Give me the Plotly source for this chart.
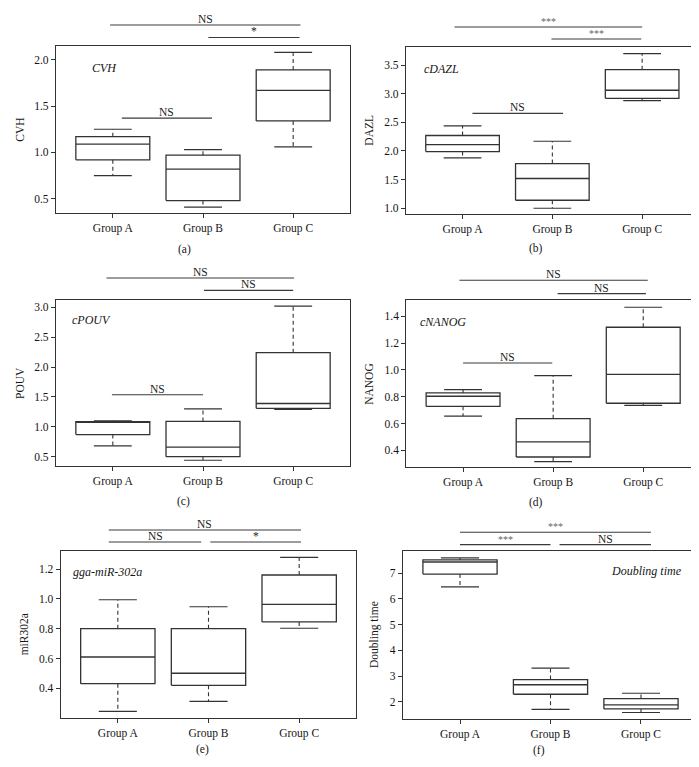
import plotly.graph_objects as go

W, H = 699, 767
FONT = "Liberation Serif"
LINE = "#333333"
TXT = "#151515"

groups = ["Group A", "Group B", "Group C"]

# ---- data (box statistics) ----
cvh_lower = [0.75, 0.41, 1.06]
cvh_q1 = [0.92, 0.48, 1.34]
cvh_med = [1.09, 0.82, 1.67]
cvh_q3 = [1.17, 0.97, 1.89]
cvh_upper = [1.25, 1.03, 2.08]

dazl_lower = [1.88, 1.00, 2.88]
dazl_q1 = [1.99, 1.14, 2.92]
dazl_med = [2.11, 1.52, 3.06]
dazl_q3 = [2.27, 1.78, 3.42]
dazl_upper = [2.44, 2.17, 3.70]

pouv_lower = [0.68, 0.44, 1.29]
pouv_q1 = [0.87, 0.50, 1.31]
pouv_med = [1.075, 0.66, 1.39]
pouv_q3 = [1.085, 1.09, 2.24]
pouv_upper = [1.10, 1.30, 3.02]

nanog_lower = [0.655, 0.315, 0.735]
nanog_q1 = [0.728, 0.35, 0.751]
nanog_med = [0.803, 0.462, 0.967]
nanog_q3 = [0.828, 0.636, 1.318]
nanog_upper = [0.852, 0.957, 1.467]

mir_lower = [0.246, 0.313, 0.803]
mir_q1 = [0.431, 0.42, 0.845]
mir_med = [0.61, 0.501, 0.963]
mir_q3 = [0.80, 0.80, 1.16]
mir_upper = [0.994, 0.947, 1.278]

dt_lower = [6.47, 1.70, 1.58]
dt_q1 = [6.97, 2.29, 1.72]
dt_med = [7.44, 2.66, 1.88]
dt_q3 = [7.52, 2.86, 2.12]
dt_upper = [7.60, 3.31, 2.33]

y_titles = ["CVH", "DAZL", "POUV", "NANOG", "miR302a", "Doubling time"]
gene_labels = ["CVH", "cDAZL", "cPOUV", "cNANOG", "gga-miR-302a", "Doubling time"]
captions = ["(a)", "(b)", "(c)", "(d)", "(e)", "(f)"]

y_ticks = [
    [0.5, 1.0, 1.5, 2.0],
    [1.0, 1.5, 2.0, 2.5, 3.0, 3.5],
    [0.5, 1.0, 1.5, 2.0, 2.5, 3.0],
    [0.4, 0.6, 0.8, 1.0, 1.2, 1.4],
    [0.4, 0.6, 0.8, 1.0, 1.2],
    [2, 3, 4, 5, 6, 7],
]

panels_data = [
    (cvh_lower, cvh_q1, cvh_med, cvh_q3, cvh_upper),
    (dazl_lower, dazl_q1, dazl_med, dazl_q3, dazl_upper),
    (pouv_lower, pouv_q1, pouv_med, pouv_q3, pouv_upper),
    (nanog_lower, nanog_q1, nanog_med, nanog_q3, nanog_upper),
    (mir_lower, mir_q1, mir_med, mir_q3, mir_upper),
    (dt_lower, dt_q1, dt_med, dt_q3, dt_upper),
]

# significance labels: (text, x0, x1, y, where) where='out' -> y in domain units, 'in' -> data units
sig = [
    [("NS", 0.97, 3.08, 1.128, "out"), ("*", 2.06, 3.07, 1.053, "out"), ("NS", 1.1, 2.1, 1.37, "in")],
    [("***", 0.91, 3.0, 1.122, "out"), ("***", 1.99, 2.99, 1.05, "out"), ("NS", 1.11, 2.12, 2.657, "in")],
    [("NS", 0.93, 3.01, 1.13, "out"), ("NS", 2.01, 3.0, 1.056, "out"), ("NS", 0.99, 2.0, 1.536, "in")],
    [("NS", 0.96, 3.05, 1.12, "out"), ("NS", 2.05, 3.03, 1.04, "out"), ("NS", 1.0, 1.99, 1.051, "in")],
    [("NS", 0.9, 3.02, 1.124, "out"), ("NS", 0.9, 1.92, 1.052, "out"), ("*", 2.02, 3.02, 1.052, "out")],
    [("***", 1.0, 3.11, 1.114, "out"), ("***", 1.0, 2.0, 1.04, "out"), ("NS", 2.1, 3.11, 1.04, "out")],
]

# ---- layout geometry (pixel boxes of each plot area) ----
boxes_px = [
    (48, 342, 38.3, 205),
    (398, 690.7, 39.3, 206),
    (48, 342, 291.7, 458.3),
    (398.3, 692, 292.3, 459.3),
    (52.7, 348.3, 542.7, 710),
    (395, 690, 543.3, 710.7),
]
y_ranges = [
    [0.346, 2.145], [0.90, 3.81], [0.339, 3.127],
    [0.273, 1.519], [0.201, 1.323], [1.338, 7.857],
]
gene_pos = [(0.116, 0.87, "left"), (0.055, 0.87, "left"), (0.048, 0.88, "left"),
            (0.04, 0.87, "left"), (0.035, 0.871, "left"), (0.953, 0.88, "right")]
ytitle_x = [12, 361, 12, 361, 16, 366]
caption_pos = [(176, 241), (528, 240), (175, 494), (528, 494.7), (195, 741.7), (531, 742.7)]

BW = 0.41   # box half width
CW = 0.21   # cap half width

fig = go.Figure()
annotations = []
shapes = []
layout = {}

for i, (stats, (x0p, x1p, y0p, y1p)) in enumerate(zip(panels_data, boxes_px)):
    n = i + 1
    xa = "x" if n == 1 else f"x{n}"
    ya = "y" if n == 1 else f"y{n}"
    lower, q1, med, q3, upper = stats
    bx, by, wx, wy, cx, cy = [], [], [], [], [], []
    for g in range(len(groups)):
        x = g + 1
        bx += [x - BW, x + BW, x + BW, x - BW, x - BW, None, x - BW, x + BW, None]
        by += [q1[g], q1[g], q3[g], q3[g], q1[g], None, med[g], med[g], None]
        wx += [x, x, None, x, x, None]
        wy += [q3[g], upper[g], None, q1[g], lower[g], None]
        cx += [x - CW, x + CW, None, x - CW, x + CW, None]
        cy += [upper[g], upper[g], None, lower[g], lower[g], None]
    fig.add_trace(go.Scatter(x=wx, y=wy, mode="lines", xaxis=xa, yaxis=ya,
                             line=dict(color=LINE, width=1.1, dash="4px,3px"),
                             showlegend=False, hoverinfo="skip"))
    fig.add_trace(go.Scatter(x=cx, y=cy, mode="lines", xaxis=xa, yaxis=ya,
                             line=dict(color=LINE, width=1.2), showlegend=False, hoverinfo="skip"))
    fig.add_trace(go.Scatter(x=bx, y=by, mode="lines", xaxis=xa, yaxis=ya,
                             line=dict(color=LINE, width=1.3), showlegend=False, hoverinfo="skip"))

    xkey = "xaxis" if n == 1 else f"xaxis{n}"
    ykey = "yaxis" if n == 1 else f"yaxis{n}"
    axis_common = dict(showline=True, mirror=True, linecolor=LINE, linewidth=1.2,
                       ticks="outside", ticklen=4, tickcolor=LINE, showgrid=False,
                       zeroline=False, tickfont=dict(family=FONT, size=11.5, color=TXT))
    layout[xkey] = dict(domain=[x0p / W, x1p / W], range=[0.37, 3.63], anchor=ya,
                        tickmode="array", tickvals=[1, 2, 3], ticktext=groups, **axis_common)
    yt = y_ticks[i]
    fmt = "d" if n == 6 else ".1f"
    layout[ykey] = dict(domain=[1 - y1p / H, 1 - y0p / H], range=y_ranges[i], anchor=xa,
                        tickmode="array", tickvals=yt, tickformat=fmt, **axis_common)

    # gene label
    gx, gy, ga = gene_pos[i]
    annotations.append(dict(text=f"<i>{gene_labels[i]}</i>", xref=f"{xa} domain", yref=f"{ya} domain",
                            x=gx, y=gy, xanchor=ga, yanchor="middle", showarrow=False,
                            font=dict(family=FONT, size=12, color=TXT)))
    # y title
    annotations.append(dict(text=y_titles[i], xref="paper", yref="paper",
                            x=ytitle_x[i] / W, y=1 - (y0p + y1p) / 2 / H, textangle=-90,
                            xanchor="center", yanchor="middle", showarrow=False,
                            font=dict(family=FONT, size=11.5, color=TXT)))
    # caption
    cxp, cyp = caption_pos[i]
    annotations.append(dict(text=captions[i], xref="paper", yref="paper", x=cxp / W, y=1 - cyp / H,
                            xanchor="center", yanchor="middle", showarrow=False,
                            font=dict(family=FONT, size=11.5, color=TXT)))
    # significance bars
    for (txt, sx0, sx1, sy, where) in sig[i]:
        yref = f"{ya} domain" if where == "out" else ya
        shapes.append(dict(type="line", xref=xa, yref=yref, x0=sx0, x1=sx1, y0=sy, y1=sy,
                           line=dict(color="#3a3a3a", width=1.1)))
        annotations.append(dict(text=txt, xref=xa, yref=yref, x=(sx0 + sx1) / 2, y=sy,
                                xanchor="center", yanchor="bottom", showarrow=False, yshift=-2,
                                font=dict(family=FONT, size=11.5 if txt != "***" else 10,
                                          color="#222" if txt != "***" else "#666")))

fig.update_layout(width=W, height=H, margin=dict(l=0, r=0, t=0, b=0),
                  paper_bgcolor="white", plot_bgcolor="white",
                  annotations=annotations, shapes=shapes, **layout)
fig.write_html("out.html")
